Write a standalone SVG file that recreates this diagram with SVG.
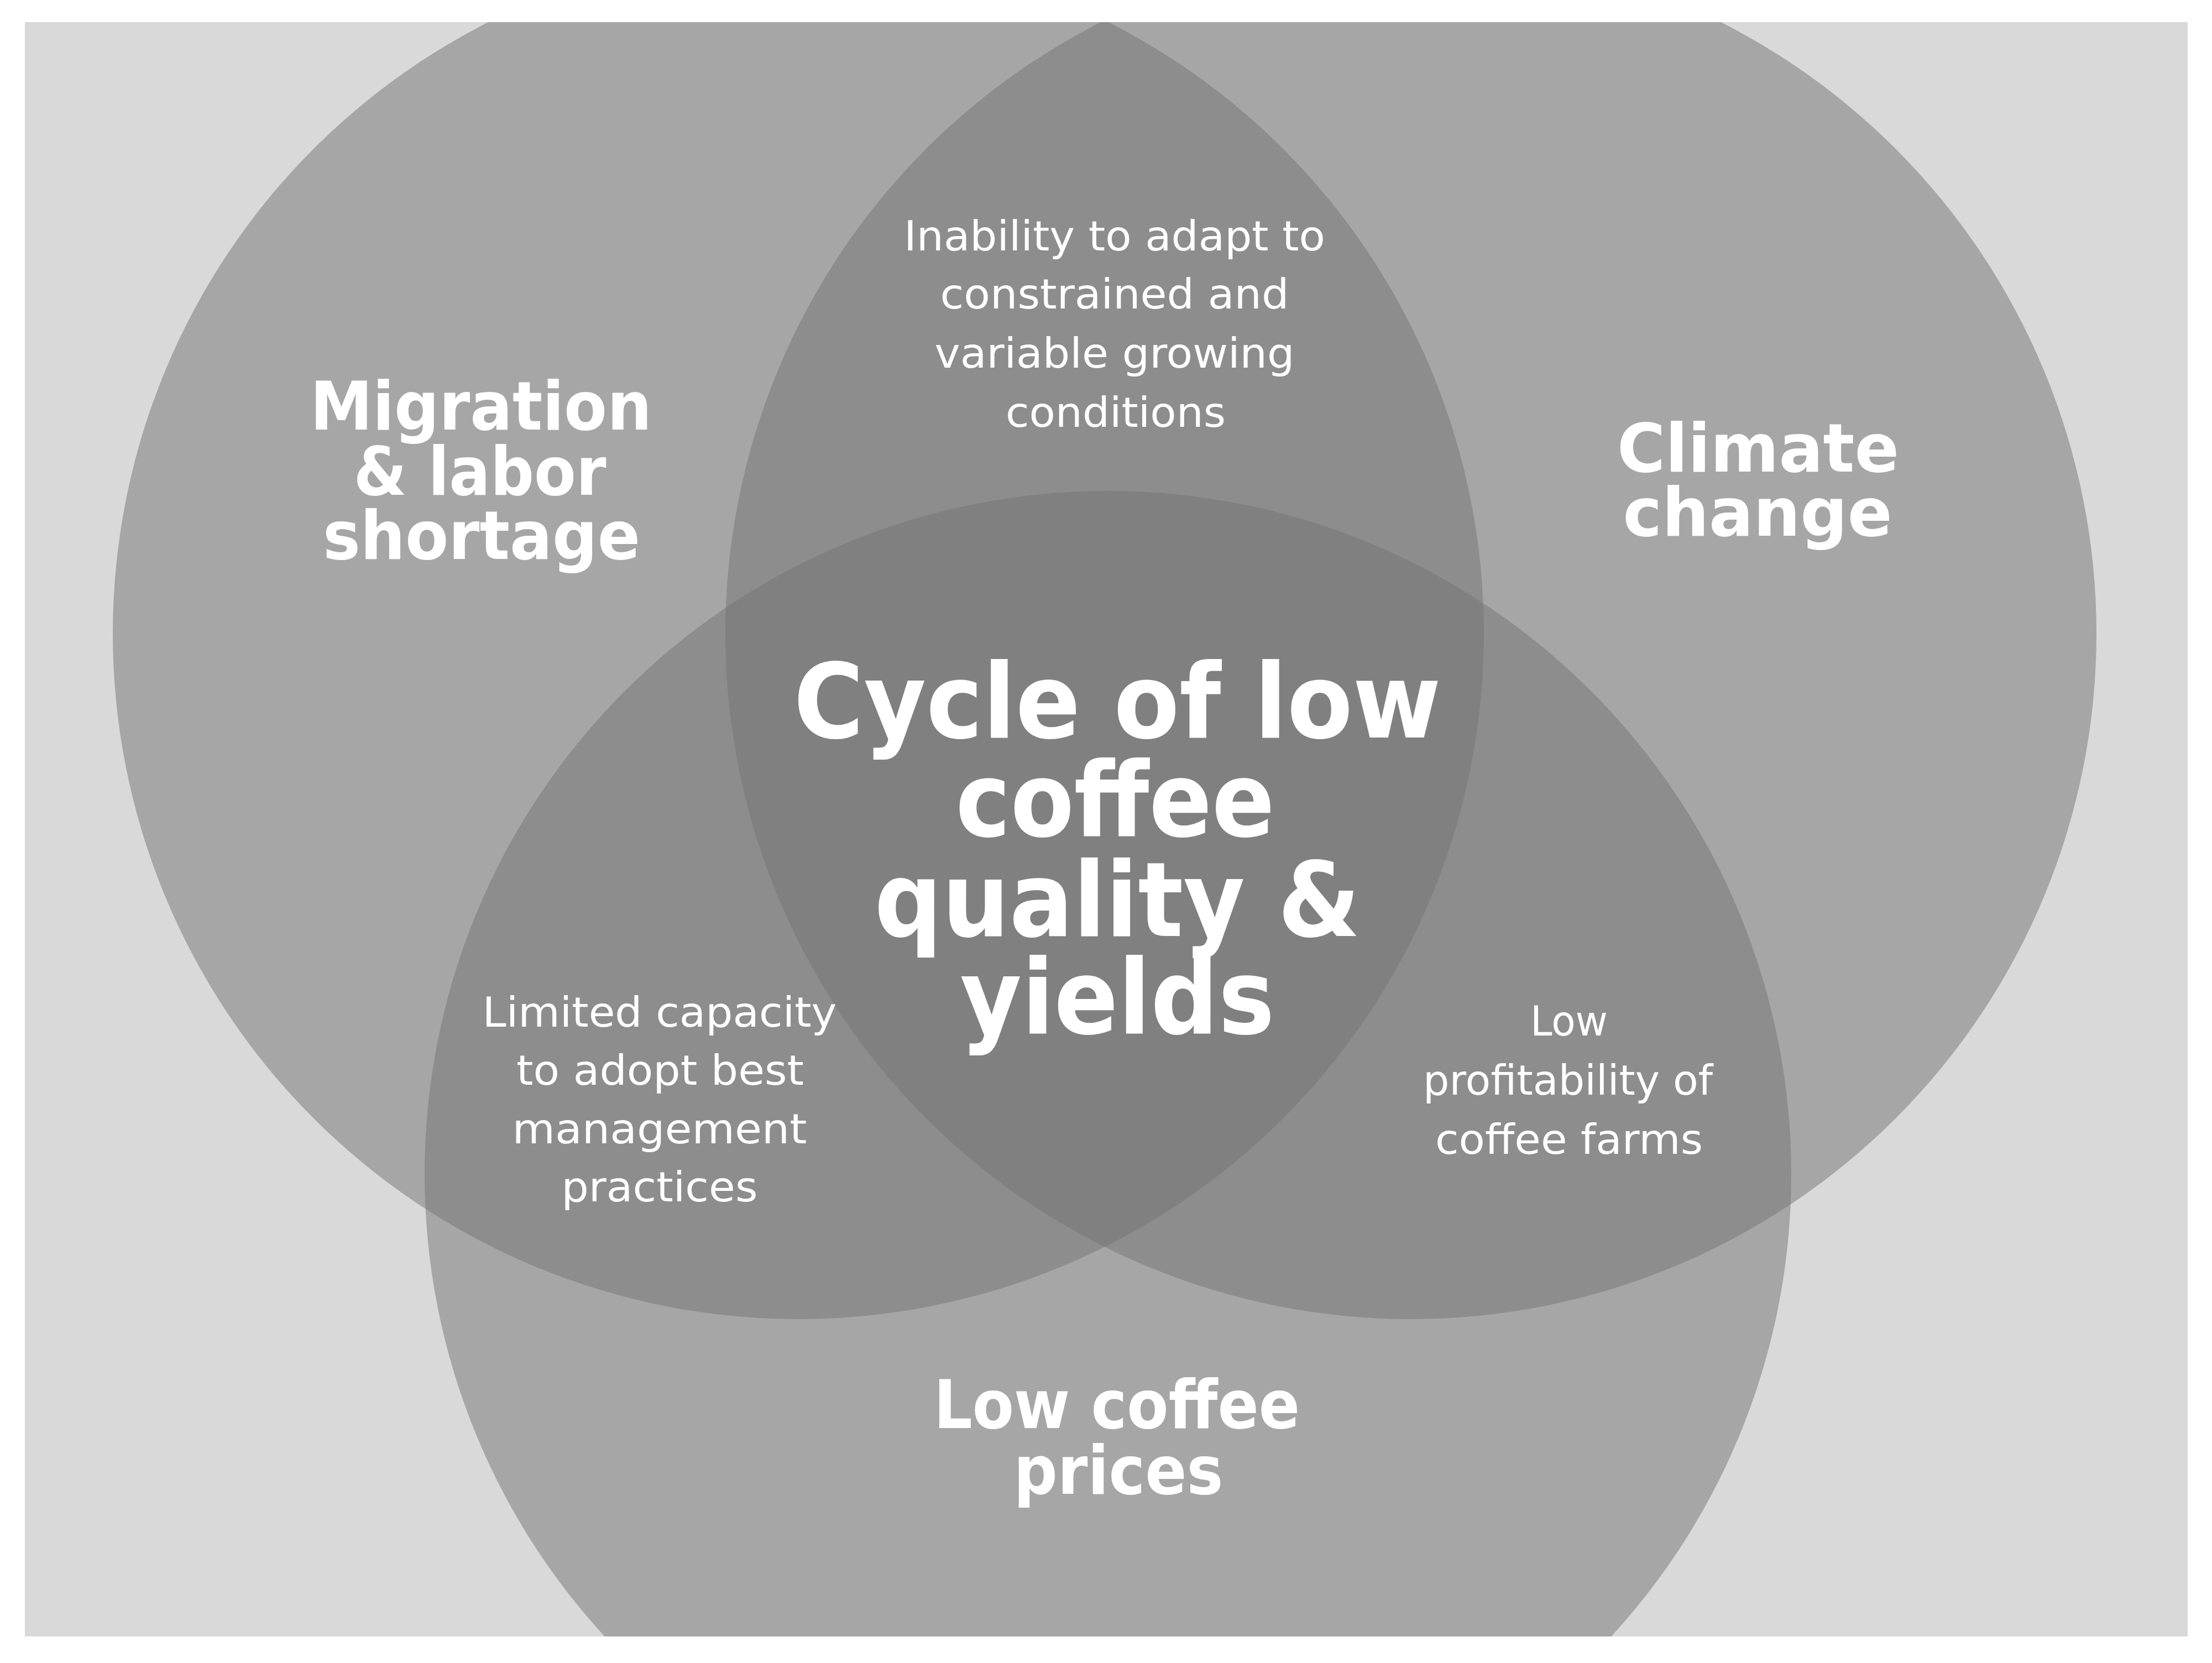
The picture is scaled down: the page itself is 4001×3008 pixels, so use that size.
<svg xmlns="http://www.w3.org/2000/svg" width="4001" height="3008" viewBox="0 0 4001 3008">
  <defs>
    <clipPath id="panel">
      <rect x="45" y="40" width="3912" height="2920"/>
    </clipPath>
    <style>
      .set { fill: #737373; fill-opacity: 0.5; }
      .big { font-family: "DejaVu Sans", "Liberation Sans", sans-serif; font-weight: bold; fill: #ffffff; text-anchor: middle; }
      .small { font-family: "DejaVu Sans", "Liberation Sans", sans-serif; font-weight: normal; fill: #ffffff; text-anchor: middle; }
    </style>
  </defs>
  <rect x="0" y="0" width="4001" height="3008" fill="#ffffff"/>
  <rect x="45" y="40" width="3912" height="2920" fill="#d9d9d9"/>

  <g clip-path="url(#panel)">
    <g id="set-migration"><circle class="set" cx="1444" cy="1146" r="1240"/></g>
    <g id="set-climate"><circle class="set" cx="2552" cy="1146" r="1240"/></g>
    <g id="set-prices"><circle class="set" cx="2004" cy="2124" r="1236"/></g>
  </g>

  <g id="connectors"/>

  <g id="label-migration">
    <text class="big" font-size="122"><tspan x="870" y="777" textLength="618" lengthAdjust="spacingAndGlyphs">Migration</tspan><tspan x="868" y="895" textLength="457" lengthAdjust="spacingAndGlyphs">&amp; labor</tspan><tspan x="871" y="1011" textLength="574" lengthAdjust="spacingAndGlyphs">shortage</tspan></text>
  </g>

  <g id="label-climate">
    <text class="big" font-size="122"><tspan x="3180" y="853" textLength="510" lengthAdjust="spacingAndGlyphs">Climate</tspan><tspan x="3179" y="969" textLength="487" lengthAdjust="spacingAndGlyphs">change</tspan></text>
  </g>

  <g id="label-prices">
    <text class="big" font-size="122"><tspan x="2020" y="2583" textLength="662" lengthAdjust="spacingAndGlyphs">Low coffee</tspan><tspan x="2023" y="2702" textLength="379" lengthAdjust="spacingAndGlyphs">prices</tspan></text>
  </g>

  <g id="label-center">
    <text class="big" font-size="187"><tspan x="2021" y="1334" textLength="1171" lengthAdjust="spacingAndGlyphs">Cycle of low</tspan><tspan x="2017" y="1512" textLength="577" lengthAdjust="spacingAndGlyphs">coffee</tspan><tspan x="2021" y="1693" textLength="879" lengthAdjust="spacingAndGlyphs">quality &amp;</tspan><tspan x="2021" y="1869" textLength="569" lengthAdjust="spacingAndGlyphs">yields</tspan></text>
  </g>

  <g id="label-adapt">
    <text class="small" font-size="74"><tspan x="2016" y="453" textLength="762" lengthAdjust="spacingAndGlyphs">Inability to adapt to</tspan><tspan x="2016" y="558" textLength="631" lengthAdjust="spacingAndGlyphs">constrained and</tspan><tspan x="2016" y="665" textLength="651" lengthAdjust="spacingAndGlyphs">variable growing</tspan><tspan x="2018" y="772" textLength="398" lengthAdjust="spacingAndGlyphs">conditions</tspan></text>
  </g>

  <g id="label-capacity">
    <text class="small" font-size="74"><tspan x="1193" y="1857" textLength="641" lengthAdjust="spacingAndGlyphs">Limited capacity</tspan><tspan x="1194" y="1962" textLength="520" lengthAdjust="spacingAndGlyphs">to adopt best</tspan><tspan x="1193" y="2068" textLength="533" lengthAdjust="spacingAndGlyphs">management</tspan><tspan x="1193" y="2173" textLength="355" lengthAdjust="spacingAndGlyphs">practices</tspan></text>
  </g>

  <g id="label-profitability">
    <text class="small" font-size="74"><tspan x="2838" y="1873" textLength="140" lengthAdjust="spacingAndGlyphs">Low</tspan><tspan x="2836" y="1980" textLength="524" lengthAdjust="spacingAndGlyphs">profitability of</tspan><tspan x="2838" y="2087" textLength="484" lengthAdjust="spacingAndGlyphs">coffee farms</tspan></text>
  </g>
</svg>
